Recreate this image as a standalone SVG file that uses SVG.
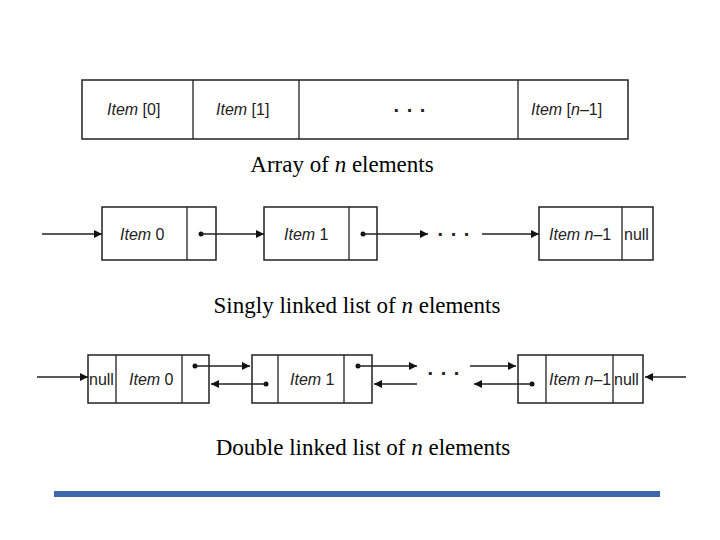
<svg xmlns="http://www.w3.org/2000/svg" width="720" height="540" viewBox="0 0 720 540">
<style>
.b{fill:#fff;stroke:#222;stroke-width:1.5}
.l{stroke:#222;stroke-width:1.3;fill:none}
.t{font-family:"Liberation Sans",Arial,sans-serif;font-size:16px;fill:#222}
.d{font-family:"Liberation Sans",Arial,sans-serif;font-size:20px;font-weight:bold;fill:#222;text-anchor:middle;letter-spacing:1px}
.c{font-family:"Liberation Serif","Times New Roman",serif;font-size:23px;fill:#000;text-anchor:middle}
</style>
<defs>
<marker id="a" viewBox="0 0 10 10" refX="10" refY="5" markerWidth="8" markerHeight="8" markerUnits="userSpaceOnUse" orient="auto"><path d="M0,0L10,5L0,10z" fill="#111"/></marker>
</defs>
<g id="array">
<rect class="b" x="82" y="80" width="546" height="59"/>
<path class="l" d="M193,80V139M299,80V139M518,80V139"/>
<text class="t" x="107" y="115"><tspan font-style="italic">Item</tspan> [0]</text>
<text class="t" x="216" y="115"><tspan font-style="italic">Item</tspan> [1]</text>
<text class="d" x="410" y="112">. . .</text>
<text class="t" x="531" y="115"><tspan font-style="italic">Item</tspan> [<tspan font-style="italic">n</tspan>–1]</text>
</g>
<text class="c" x="342" y="172">Array of <tspan font-style="italic">n</tspan> elements</text>
<g id="s0"><rect class="b" x="102" y="207" width="114" height="53"/><path class="l" d="M187,207V260"/><text class="t" x="120" y="240"><tspan font-style="italic">Item</tspan> 0</text><circle cx="201" cy="234" r="2.5" fill="#111"/></g>
<g id="s1"><rect class="b" x="264" y="207" width="113" height="53"/><path class="l" d="M349,207V260"/><text class="t" x="284" y="240"><tspan font-style="italic">Item</tspan> 1</text><circle cx="363" cy="234" r="2.5" fill="#111"/></g>
<text class="d" x="454" y="236">. . .</text>
<g id="sn"><rect class="b" x="539" y="207" width="114" height="53"/><path class="l" d="M622,207V260"/><text class="t" x="549" y="240"><tspan font-style="italic">Item n</tspan>–1</text><text class="t" x="624" y="240">null</text></g>
<text class="c" x="357" y="313">Singly linked list of <tspan font-style="italic">n</tspan> elements</text>
<g id="d0"><rect class="b" x="88" y="355" width="121" height="48"/><path class="l" d="M116,355V403M182,355V403"/><text class="t" x="89" y="385">null</text><text class="t" x="129" y="385"><tspan font-style="italic">Item</tspan> 0</text><circle cx="195" cy="366" r="2.5" fill="#111"/></g>
<g id="d1"><rect class="b" x="252" y="355" width="120" height="48"/><path class="l" d="M278,355V403M344,355V403"/><text class="t" x="290" y="385"><tspan font-style="italic">Item</tspan> 1</text><circle cx="266" cy="384" r="2.5" fill="#111"/><circle cx="358" cy="366" r="2.5" fill="#111"/></g>
<text class="d" x="444" y="375">. . .</text>
<g id="dn"><rect class="b" x="518" y="355" width="125" height="48"/><path class="l" d="M546,355V403M613,355V403"/><text class="t" x="549" y="385"><tspan font-style="italic">Item n</tspan>–1</text><text class="t" x="614" y="385">null</text><circle cx="532" cy="384" r="2.5" fill="#111"/></g>
<text class="c" x="363" y="455">Double linked list of <tspan font-style="italic">n</tspan> elements</text>
<g id="connectors" class="l" marker-end="url(#a)">
<path d="M42,234H102"/><path d="M201,234H264"/><path d="M363,234H428"/><path d="M482,234H539"/>
<path d="M37,377H88"/><path d="M195,366H250"/><path d="M266,384H211"/><path d="M358,366H417"/><path d="M417,384H374"/>
<path d="M470,366H516"/><path d="M532,384H474"/><path d="M686,377H645"/>
</g>
<rect x="54" y="491" width="606" height="6" fill="#3e67ad"/>
</svg>
